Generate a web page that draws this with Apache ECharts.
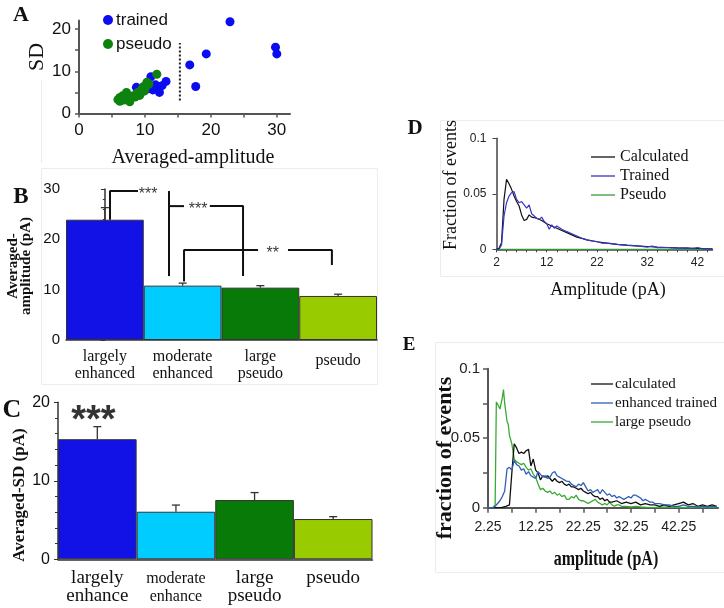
<!DOCTYPE html>
<html>
<head>
<meta charset="utf-8">
<script src="https://cdn.jsdelivr.net/npm/echarts@6/dist/echarts.min.js"></script>
<style>html,body{margin:0;padding:0;background:#fff}#c{width:724px;height:608px}</style>
</head>
<body>
<div id="c"></div>
<script>
// ---------- Panel A: scatter ----------
const trainedPts = [[22.9,21.7],[29.8,15.7],[30,14.1],[19.3,14.1],[16.8,11.5],[17.7,6.4],[10.9,8.7],[8.7,6.2],[13.2,7.6],[12.2,5.0],[12.2,6.4],[10.3,5.8],[11.6,6.8],[12.6,6.6],[11.2,5.6]];
const pseudoPts = [[11.8,9.3],[10.3,7.4],[10.6,7.0],[9.8,6.4],[9.5,5.7],[9.2,4.3],[8.5,3.9],[7.2,5.0],[6.2,3.8],[5.9,3.3],[7.2,3.3],[7.7,3.7],[8.2,4.2],[8.9,5.0],[6.2,2.9],[6.8,3.2],[9.9,5.3],[10.1,6.2],[9.0,4.5],[7.7,2.8],[6.6,4.2]];
const dividerLine = [[15.3,3.1],[15.3,16.7]];
const aXTicks = [0,5,10,15,20,25,30];
const aXLabels = [0,10,20,30];
const aYTicks = [0,5,10,15,20];
const aYLabels = [0,10,20];

// ---------- Panel B: averaged amplitude ----------
const catB = ['largely\nenhanced','moderate\nenhanced','large\npseudo','pseudo'];
const meanB = [23.9, 10.8, 10.4, 8.75];
const semB = [2.4, 0.5, 0.4, 0.35];
const bracketsB = [
  [[0.066,23.9],[0.066,29.6],[0.426,29.6]],
  [[0.825,29.6],[0.825,12.7]],
  [[0.825,26.6],[1.018,26.6]],
  [[1.35,26.6],[1.777,26.6],[1.777,12.7]],
  [[1.018,11.6],[1.018,17.9],[1.97,17.9]],
  [[2.355,17.9],[2.92,17.9],[2.92,14.9]]
];
const starsB = [['***',0.555,28.9],['***',1.2,25.9],['**',2.16,17.2]];

// ---------- Panel C: averaged SD ----------
const catC = ['largely\nenhance','moderate\nenhance','large\npseudo','pseudo'];
const meanC = [15.3, 6.06, 7.55, 5.13];
const semC = [1.6, 0.85, 0.95, 0.3];
const starsC = [['***',0,17.6]];

const barColors = ['#1212e6','#00ccff','#087a08','#99cc00'];

// ---------- Panel D: distributions ----------
const dCalculated = [[2,0],[2.5,0.001],[3,0.006],[3.5,0.045],[4,0.063],[4.5,0.059],[5,0.054],[5.5,0.048],[6,0.043],[6.5,0.039],[7,0.031],[7.5,0.026],[8,0.027],[8.5,0.031],[9,0.029],[10,0.028],[11,0.026],[12,0.023],[13,0.021],[14,0.019],[15,0.017],[16,0.015],[17,0.013],[18,0.011],[19,0.0098],[20,0.0085],[22,0.0068],[24,0.0055],[26,0.0045],[28,0.0037],[30,0.003],[32,0.0025],[34,0.002],[36,0.0016],[38,0.0012],[40,0.001],[42,0.0008],[44,0.0005],[45,0.0004]];
const dTrained = [[2,0],[2.5,0],[3,0.004],[3.5,0.03],[4,0.042],[4.5,0.048],[5,0.051],[5.5,0.052],[6,0.045],[6.5,0.042],[7,0.043],[7.5,0.04],[8,0.037],[8.5,0.04],[9,0.032],[9.5,0.03],[10,0.028],[10.5,0.027],[11,0.029],[11.5,0.025],[12,0.023],[12.5,0.018],[13,0.022],[13.5,0.019],[14,0.021],[15,0.018],[15.5,0.017],[16,0.016],[17,0.014],[18,0.012],[19,0.01],[20,0.0085],[21,0.0075],[22,0.007],[23,0.0055],[24,0.0055],[26,0.0045],[28,0.0035],[30,0.003],[32,0.002],[33,0.003],[34,0.0015],[36,0.0015],[38,0.001],[40,0.0012],[41,0.0005],[42,0.0015],[43,0.0005],[44,0.0004],[45,0.0002]];
const dPseudo = [[2,0],[10,0],[20,0],[30,0],[45,0]];
const dXLabels = [2,12,22,32,42];
const dXTicks = [2,4,6,8,10,12,14,16,18,20,22,24,26,28,30,32,34,36,38,40,42,44];
const dYLabels = [0,0.05,0.1];

// ---------- Panel E: distributions ----------
const eCalculated = [[2.25,0],[4,0],[5,0],[6,0.001],[6.75,0.002],[7.25,0.025],[7.75,0.046],[8.25,0.043],[8.75,0.039],[9.25,0.04],[9.75,0.039],[10.25,0.041],[10.75,0.042],[11.25,0.03],[11.75,0.035],[12.25,0.027],[12.75,0.025],[13.25,0.02],[13.75,0.023],[14.25,0.022],[14.75,0.023],[15.25,0.021],[15.75,0.019],[16.25,0.021],[16.75,0.019],[17.25,0.018],[17.75,0.019],[18.25,0.017],[18.75,0.016],[19.25,0.017],[19.75,0.015],[20.25,0.015],[20.75,0.014],[21.25,0.013],[21.75,0.014],[22.25,0.012],[22.75,0.011],[23.25,0.01],[23.75,0.011],[24.25,0.009],[24.75,0.008],[25.25,0.008],[25.75,0.006],[26.25,0.007],[26.75,0.005],[27.25,0.006],[27.75,0.004],[28.25,0.004],[29.25,0.005],[30.25,0.003],[31.25,0.004],[32.25,0.003],[33.25,0.004],[34.25,0.002],[35.25,0.003],[36.25,0.002],[37.25,0.002],[38.25,0.001],[39.25,0.002],[40.25,0.001],[41.25,0.002],[42.25,0.003],[43.25,0.004],[44.25,0.002],[45.25,0.003],[46.25,0.001],[47.25,0.002],[48.25,0.001],[49.25,0.002],[50.25,0.001]];
const eTrained = [[2.25,0],[3.25,0],[3.75,0.001],[4.25,0.003],[4.75,0.005],[5.25,0.008],[5.75,0.012],[6.25,0.028],[6.75,0.029],[7.25,0.027],[7.75,0.034],[8.25,0.031],[8.75,0.03],[9.25,0.027],[9.75,0.028],[10.25,0.024],[10.75,0.026],[11.25,0.023],[11.75,0.022],[12.25,0.021],[12.75,0.026],[13.25,0.024],[13.75,0.022],[14.25,0.023],[14.75,0.021],[15.25,0.022],[15.75,0.025],[16.25,0.026],[16.75,0.023],[17.25,0.022],[17.75,0.021],[18.25,0.02],[18.75,0.019],[19.25,0.019],[19.75,0.017],[20.25,0.016],[20.75,0.015],[21.25,0.017],[21.75,0.016],[22.25,0.018],[22.75,0.015],[23.25,0.012],[23.75,0.013],[24.25,0.011],[24.75,0.012],[25.25,0.013],[25.75,0.01],[26.25,0.013],[26.75,0.011],[27.25,0.009],[27.75,0.01],[28.25,0.008],[28.75,0.009],[29.25,0.007],[29.75,0.008],[30.25,0.007],[30.75,0.006],[31.25,0.007],[31.75,0.008],[32.25,0.007],[32.75,0.009],[33.25,0.009],[33.75,0.008],[34.25,0.007],[34.75,0.005],[35.25,0.006],[35.75,0.005],[36.25,0.004],[36.75,0.004],[37.25,0.003],[38.25,0.003],[39.25,0.002],[40.25,0.002],[41.25,0.001],[42.25,0.001],[43.25,0.002],[44.25,0.001],[45.25,0.001],[46.25,0.0005],[47.25,0.001],[48.25,0.0005],[49.25,0.001],[50.25,0.0005]];
const ePseudo = [[2.25,0],[3.25,0],[3.75,0.002],[4,0.076],[4.5,0.073],[4.75,0.071],[5.25,0.079],[5.5,0.085],[5.75,0.075],[6.25,0.062],[6.5,0.06],[6.75,0.052],[7.25,0.046],[7.75,0.035],[8.25,0.033],[8.75,0.032],[9.25,0.031],[9.75,0.032],[10.25,0.029],[10.75,0.027],[11.25,0.028],[11.75,0.024],[12.25,0.022],[12.75,0.017],[13.25,0.013],[13.75,0.014],[14.25,0.012],[14.75,0.011],[15.25,0.012],[15.75,0.01],[16.25,0.011],[16.75,0.009],[17.25,0.01],[17.75,0.008],[18.25,0.009],[18.75,0.006],[19.25,0.006],[19.75,0.008],[20.25,0.007],[20.75,0.009],[21.25,0.006],[21.75,0.005],[22.25,0.005],[22.75,0.004],[23.25,0.003],[23.75,0.004],[24.25,0.005],[24.75,0.006],[25.25,0.004],[25.75,0.003],[26.25,0.002],[26.75,0.003],[27.25,0.002],[27.75,0.004],[28.25,0.002],[28.75,0.001],[29.25,0.002],[29.75,0.002],[30.25,0.001],[31.25,0.001],[32.25,0.0005],[33.25,0.001],[34.25,0.0005],[36.25,0],[40.25,0.0005],[44.25,0],[50.25,0]];
const eXLabels = [2.25,12.25,22.25,32.25,42.25];
const eXTicks = [2.25,7.25,12.25,17.25,22.25,27.25,32.25,37.25,42.25,47.25];
const eYLabels = [0,0.05,0.1];
const eYTicks = [0,0.025,0.05,0.075,0.1];

// ---------- fonts / helpers ----------
const SERIF = '"Liberation Serif","Times New Roman",serif';
const SANS = '"Liberation Sans",Arial,sans-serif';
const NARROW = '"Liberation Sans Narrow","Liberation Sans",sans-serif';
const AX = '#444';

function errRender(params, api){
  const i = api.value(0);
  const base = api.coord([i, api.value(1)]);
  const top = api.coord([i, api.value(2)]);
  const w = 4;
  const st = {stroke:'#333', lineWidth:1.3};
  return {type:'group', children:[
    {type:'line', shape:{x1:base[0],y1:base[1],x2:top[0],y2:top[1]}, style:st},
    {type:'line', shape:{x1:top[0]-w,y1:top[1],x2:top[0]+w,y2:top[1]}, style:st}
  ]};
}

function gtext(x, y, text, opts){
  return Object.assign({type:'text', x:x, y:y, silent:true,
    style:Object.assign({text:text, textAlign:'center', textVerticalAlign:'middle', fill:'#111'}, opts.style||{})},
    opts.el||{});
}

const chart = echarts.init(document.getElementById('c'), null, {renderer:'canvas'});

const option = {
  backgroundColor:'#fff',
  animation:false,
  grid:[
    {left:79, top:20.5, width:211, height:93.1, outerBoundsMode:'none'},
    {left:66, top:189, width:311, height:151, outerBoundsMode:'none'},
    {left:58, top:402.3, width:314.5, height:157, outerBoundsMode:'none'},
    {left:496.5, top:138.3, width:216, height:111, outerBoundsMode:'none'},
    {left:488, top:368.7, width:230, height:139, outerBoundsMode:'none'}
  ],
  xAxis:[
    {type:'value', gridIndex:0, min:0, max:32,
      axisLine:{show:true, onZero:false, lineStyle:{color:'#555', width:2}},
      axisTick:{show:true, customValues:aXTicks, length:4, lineStyle:{color:'#555', width:1.5}},
      axisLabel:{customValues:aXLabels, fontSize:17, fontFamily:SANS, color:'#111', margin:8},
      splitLine:{show:false}},
    {type:'category', gridIndex:1, data:catB,
      axisLine:{show:true, lineStyle:{color:'#333', width:1.5}},
      axisTick:{show:false},
      axisLabel:{interval:0, margin:8, color:'#111', fontFamily:SERIF, fontSize:16, lineHeight:17,
        formatter:function(v){ return v.indexOf('\n')<0 ? '{p|'+v+'}' : v; },
        rich:{p:{fontFamily:SERIF, fontSize:16, padding:[8,0,0,0]}}}},
    {type:'value', gridIndex:1, min:-0.5, max:3.5, show:false},
    {type:'category', gridIndex:2, data:catC,
      axisLine:{show:true, lineStyle:{color:'#333', width:1.5}},
      axisTick:{show:false},
      axisLabel:{interval:0, margin:10, color:'#111',
        formatter:function(v){ const parts=v.split('\n'); const tag = parts[0]==='moderate' ? 's' : 'b'; return parts.map(p=>'{'+tag+'|'+p+'}').join('\n'); },
        rich:{b:{fontFamily:SERIF, fontSize:19, lineHeight:18, color:'#111'}, s:{fontFamily:SERIF, fontSize:16, lineHeight:18, color:'#111'}}}},
    {type:'value', gridIndex:3, min:2, max:45,
      axisLine:{show:true, onZero:false, lineStyle:{color:AX, width:1.5}},
      axisTick:{show:true, customValues:dXTicks, length:3, lineStyle:{color:AX}},
      axisLabel:{customValues:dXLabels, fontSize:12, fontFamily:SANS, color:'#222', margin:7},
      splitLine:{show:false}},
    {type:'value', gridIndex:4, min:2.25, max:50.5,
      axisLine:{show:true, onZero:false, lineStyle:{color:'#555', width:2}},
      axisTick:{show:true, customValues:eXTicks, length:5, lineStyle:{color:'#555', width:1.5}},
      axisLabel:{customValues:eXLabels, fontSize:14, fontFamily:NARROW, color:'#222', margin:12},
      splitLine:{show:false}}
  ],
  yAxis:[
    {type:'value', gridIndex:0, min:0, max:22,
      axisLine:{show:true, onZero:false, lineStyle:{color:'#555', width:2}},
      axisTick:{show:true, customValues:aYTicks, length:4, lineStyle:{color:'#555', width:1.5}},
      axisLabel:{customValues:aYLabels, fontSize:17, fontFamily:SANS, color:'#111', margin:8},
      splitLine:{show:false}},
    {type:'value', gridIndex:1, min:0, max:30, interval:10,
      axisLine:{show:true, lineStyle:{color:'#333', width:1.5}},
      axisTick:{show:true, length:4, lineStyle:{color:'#333'}},
      minorTick:{show:true, splitNumber:5, length:2, lineStyle:{color:'#333'}},
      axisLabel:{fontSize:15, fontFamily:SANS, color:'#111', margin:6},
      splitLine:{show:false}},
    {type:'value', gridIndex:2, min:0, max:20, interval:10,
      axisLine:{show:true, lineStyle:{color:'#333', width:1.5}},
      axisTick:{show:true, length:4, lineStyle:{color:'#333'}},
      minorTick:{show:true, splitNumber:5, length:3, lineStyle:{color:'#333'}},
      axisLabel:{fontSize:16, fontFamily:SANS, color:'#111', margin:8},
      splitLine:{show:false}},
    {type:'value', gridIndex:3, min:0, max:0.1,
      axisLine:{show:true, lineStyle:{color:AX, width:1.5}},
      axisTick:{show:true, customValues:dYLabels, length:4, lineStyle:{color:AX}},
      axisLabel:{customValues:dYLabels, fontSize:12, fontFamily:SANS, color:'#222', margin:10},
      splitLine:{show:false}},
    {type:'value', gridIndex:4, min:0, max:0.1,
      axisLine:{show:true, lineStyle:{color:'#555', width:2}},
      axisTick:{show:true, customValues:eYTicks, length:5, lineStyle:{color:'#555', width:1.5}},
      axisLabel:{customValues:eYLabels, fontSize:15, fontFamily:NARROW, color:'#222', margin:8},
      splitLine:{show:false}}
  ],
  legend:[
    {data:['trained','pseudo'], orient:'vertical', left:98, top:5, icon:'circle', itemWidth:10, itemHeight:10, itemGap:4, itemStyle:{borderWidth:0},
      textStyle:{fontSize:17, fontFamily:SANS, color:'#111', lineHeight:20, padding:[0,0,0,-2]}, selectedMode:false},
    {data:['Calculated','Trained','Pseudo'], orient:'vertical', left:586, top:144, icon:'rect', itemWidth:24, itemHeight:1.3, itemGap:3,
      textStyle:{fontSize:16, fontFamily:SERIF, color:'#111', lineHeight:16}, selectedMode:false},
    {data:['calculated','enhanced trained','large pseudo'], orient:'vertical', left:586, top:371, icon:'rect', itemWidth:22, itemHeight:1.3, itemGap:3, itemStyle:{borderWidth:0},
      textStyle:{fontSize:15, fontFamily:SERIF, color:'#111', lineHeight:16, padding:[0,0,0,-3]}, selectedMode:false}
  ],
  series:[
    {name:'trained', type:'scatter', xAxisIndex:0, yAxisIndex:0, data:trainedPts, symbolSize:9, itemStyle:{color:'#0c0cf0', opacity:1}, z:3},
    {name:'pseudo', type:'scatter', xAxisIndex:0, yAxisIndex:0, data:pseudoPts, symbolSize:9, itemStyle:{color:'#0e820e', opacity:1}, z:4},
    {type:'line', xAxisIndex:0, yAxisIndex:0, data:dividerLine, symbol:'none', lineStyle:{color:'#222', width:2, type:[2,2]}},

    {type:'bar', xAxisIndex:1, yAxisIndex:1, barCategoryGap:'0%',
      data:meanB.map((v,i)=>({value:v, itemStyle:{color:barColors[i]}})),
      itemStyle:{borderColor:'#333', borderWidth:1}},
    {type:'custom', xAxisIndex:1, yAxisIndex:1, renderItem:errRender, z:5,
      data:meanB.map((m,i)=>[i, m, m+semB[i]])},
    ...bracketsB.map(b=>({type:'line', xAxisIndex:2, yAxisIndex:1, data:b, symbol:'none', z:6,
      lineStyle:{color:'#111', width:2}})),
    {type:'scatter', xAxisIndex:2, yAxisIndex:1, symbolSize:2, itemStyle:{color:'rgba(0,0,0,0)'}, z:7,
      data:starsB.map(s=>({name:s[0], value:[s[1], s[2]]})),
      label:{show:true, position:'inside', formatter:'{b}', fontSize:16, fontFamily:SANS, color:'#000', textBorderWidth:0}},

    {type:'bar', xAxisIndex:3, yAxisIndex:2, barCategoryGap:'0%',
      data:meanC.map((v,i)=>({value:v, itemStyle:{color:barColors[i]}})),
      itemStyle:{borderColor:'#333', borderWidth:1}},
    {type:'custom', xAxisIndex:3, yAxisIndex:2, renderItem:errRender, z:5,
      data:meanC.map((m,i)=>[i, m, m+semC[i]])},
    {type:'scatter', xAxisIndex:3, yAxisIndex:2, symbolSize:2, itemStyle:{color:'rgba(0,0,0,0)'}, z:7,
      data:starsC.map(s=>({name:s[0], value:[s[1], s[2]]})),
      label:{show:true, position:'inside', formatter:'{b}', fontSize:38, fontWeight:'bold', fontFamily:SANS, color:'#000', textBorderWidth:0, offset:[-4,0]}},

    {name:'Pseudo', type:'line', xAxisIndex:4, yAxisIndex:3, data:dPseudo, symbol:'none', lineStyle:{color:'#3a9a3a', width:1.3}, itemStyle:{color:'#3a9a3a'}},
    {name:'Calculated', type:'line', xAxisIndex:4, yAxisIndex:3, data:dCalculated, symbol:'none', lineStyle:{color:'#111', width:1.2}, itemStyle:{color:'#111'}},
    {name:'Trained', type:'line', xAxisIndex:4, yAxisIndex:3, data:dTrained, symbol:'none', lineStyle:{color:'#3737c4', width:1.2}, itemStyle:{color:'#3737c4'}},

    {name:'large pseudo', type:'line', xAxisIndex:5, yAxisIndex:4, data:ePseudo, symbol:'none', lineStyle:{color:'#3aaa33', width:1.3}, itemStyle:{color:'#3aaa33'}},
    {name:'calculated', type:'line', xAxisIndex:5, yAxisIndex:4, data:eCalculated, symbol:'none', lineStyle:{color:'#111', width:1.3}, itemStyle:{color:'#111'}},
    {name:'enhanced trained', type:'line', xAxisIndex:5, yAxisIndex:4, data:eTrained, symbol:'none', lineStyle:{color:'#2f5fb5', width:1.3}, itemStyle:{color:'#2f5fb5'}}
  ],
  graphic:[
    {type:'rect', shape:{x:41.5, y:168.5, width:336, height:216}, style:{fill:'none', stroke:'#ececec', lineWidth:1}, silent:true, z:-10},
    {type:'rect', shape:{x:440.5, y:120.5, width:290, height:156}, style:{fill:'none', stroke:'#ececec', lineWidth:1}, silent:true, z:-10},
    {type:'rect', shape:{x:435.5, y:342.5, width:295, height:230}, style:{fill:'none', stroke:'#ececec', lineWidth:1}, silent:true, z:-10},
    {type:'line', shape:{x1:41.5, y1:80, x2:41.5, y2:163}, style:{stroke:'#ececec', lineWidth:1}, silent:true, z:-10},
    gtext(21, 15, 'A', {style:{fontFamily:SERIF, fontSize:22, fontWeight:'bold'}}),
    gtext(21, 197, 'B', {style:{fontFamily:SERIF, fontSize:23, fontWeight:'bold'}}),
    gtext(12, 410, 'C', {style:{fontFamily:SERIF, fontSize:26, fontWeight:'bold'}}),
    gtext(415, 129, 'D', {style:{fontFamily:SERIF, fontSize:21, fontWeight:'bold'}}),
    gtext(409, 345, 'E', {style:{fontFamily:SERIF, fontSize:19, fontWeight:'bold'}}),
    gtext(37, 57, 'SD', {style:{fontFamily:SERIF, fontSize:22}, el:{rotation:Math.PI/2}}),
    gtext(193, 158, 'Averaged-amplitude', {style:{fontFamily:SERIF, fontSize:20}}),
    gtext(20, 266, 'Averaged-\namplitude (pA)', {style:{fontFamily:SERIF, fontSize:15, fontWeight:'bold', lineHeight:13}, el:{rotation:Math.PI/2}}),
    gtext(20, 495, 'Averaged-SD (pA)', {style:{fontFamily:SERIF, fontSize:17, fontWeight:'bold'}, el:{rotation:Math.PI/2}}),
    gtext(451, 185, 'Fraction of events', {style:{fontFamily:SERIF, fontSize:18}, el:{rotation:Math.PI/2}}),
    gtext(608, 290, 'Amplitude (pA)', {style:{fontFamily:SERIF, fontSize:18}}),
    gtext(445, 458, 'fraction of events', {style:{fontFamily:SERIF, fontSize:22, fontWeight:'bold'}, el:{rotation:Math.PI/2}}),
    gtext(606, 560, 'amplitude (pA)', {style:{fontFamily:SERIF, fontSize:20, fontWeight:'bold'}, el:{scaleX:0.8}})
  ]
};
chart.setOption(option);
</script>
</body>
</html>
